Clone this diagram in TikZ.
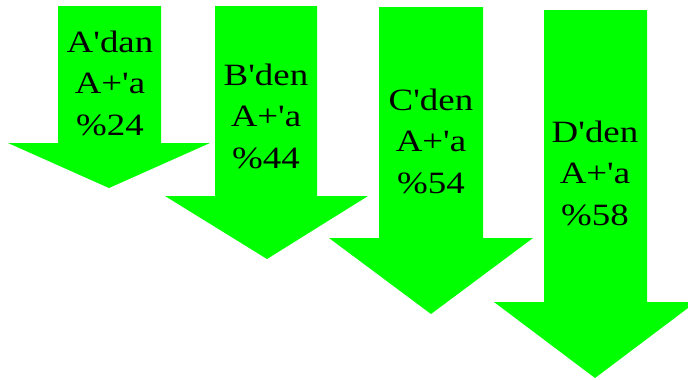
\documentclass[tikz,border=0pt]{standalone}
\usepackage{fontspec}
\newfontfamily\trfont{Liberation Serif}
\definecolor{arrowgreen}{RGB}{0,255,0}
\begin{document}
\begin{tikzpicture}[x=0.75pt,y=-0.75pt,
  downarrow/.style={fill=arrowgreen,draw=none},
  label/.style={inner sep=0pt,anchor=base,xscale=1.19,
    font=\trfont\fontsize{23.25pt}{31pt}\selectfont}]
\useasboundingbox (0,0) rectangle (688,379);
% arrows: shaft left, shaft right, top, head base, head left, head right, tip x, tip y
\foreach \sl/\sr/\t/\hb/\hl/\hr/\tx/\ty in {
   58/161/6/143/8/210/109/188,
   215/317/6/196/165/368/267/259,
   379/483/7/238/329/533/431/314,
   544/647/10/302/494/696/595/378}{
  \fill[downarrow] (\sl,\t) -- (\sr,\t) -- (\sr,\hb) -- (\hr,\hb)
     -- (\tx,\ty) -- (\hl,\hb) -- (\sl,\hb) -- cycle;
}
% labels, one node per line
\foreach \n/\x/\y/\first/\pct in {
   a/110/52/A'dan/24,
   b/266/85/B'den/44,
   c/431/110/C'den/54,
   d/595/142/D'den/58}{
  \node[label] (\n1) at (\x,\y) {\first};
  \node[label] (\n2) at (\x,\y+41.5) {A+'a};
  \node[label] (\n3) at (\x,\y+83) {\%\pct};
}
\end{tikzpicture}
\end{document}
